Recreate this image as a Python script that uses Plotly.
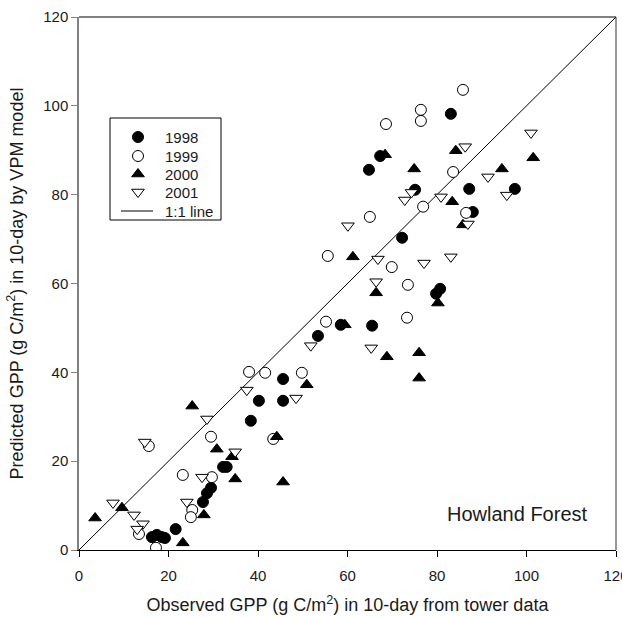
import plotly.graph_objects as go

# Observed (tower) vs predicted (VPM) 10-day GPP, g C/m2, Howland Forest
obs_1998 = [83.1, 67.3, 64.8, 97.4, 87.2, 75.1, 88.0, 72.2, 80.7, 79.8, 65.5, 58.5, 53.4,
            45.6, 40.2, 45.6, 38.4, 32.2, 33.0, 29.5, 28.6, 27.7, 21.6, 16.3, 17.4, 18.5, 19.2]
pred_1998 = [98.2, 88.7, 85.6, 81.3, 81.3, 81.1, 76.1, 70.3, 58.8, 57.7, 50.5, 50.7, 48.2,
             38.5, 33.6, 33.6, 29.1, 18.7, 18.7, 14.0, 12.8, 10.8, 4.7, 2.9, 3.4, 2.9, 2.7]

obs_1999 = [85.8, 76.4, 76.4, 68.6, 83.6, 65.0, 76.9, 86.5, 69.9, 73.5, 73.3, 55.6, 55.2,
            38.0, 41.6, 49.8, 43.4, 29.5, 15.6, 23.2, 29.7, 25.3, 25.0, 13.4, 17.2]
pred_1999 = [103.6, 99.1, 96.6, 95.9, 85.1, 75.0, 77.3, 75.9, 63.7, 59.7, 52.3, 66.2, 51.4,
             40.1, 39.9, 39.9, 25.0, 25.5, 23.4, 16.9, 16.4, 9.0, 7.4, 3.6, 0.5]

obs_2000 = [68.4, 74.9, 84.2, 101.5, 94.5, 83.4, 85.8, 61.2, 66.4, 80.2, 68.8, 76.0, 76.0,
            59.4, 50.9, 44.2, 45.6, 25.3, 30.8, 34.2, 34.9, 27.9, 23.2, 9.6, 3.6]
pred_2000 = [89.0, 85.8, 89.9, 88.3, 85.8, 78.4, 73.2, 66.0, 57.9, 55.6, 43.5, 44.4, 38.7,
             50.7, 37.2, 25.5, 15.3, 32.4, 22.7, 21.0, 16.0, 7.9, 1.6, 9.5, 7.2]

obs_2001 = [86.3, 101.0, 91.4, 95.6, 80.9, 72.8, 74.3, 86.9, 60.1, 66.8, 77.1, 83.1, 66.4,
            65.3, 51.8, 37.5, 48.5, 28.6, 14.7, 34.9, 27.5, 24.1, 7.6, 12.3, 14.3, 13.0]
pred_2001 = [90.8, 93.9, 84.0, 79.9, 79.5, 78.8, 80.5, 73.4, 73.0, 65.5, 64.6, 66.0, 60.4,
             45.5, 46.0, 36.0, 34.2, 29.5, 24.3, 22.1, 16.4, 10.8, 10.6, 7.9, 5.9, 4.7]

one_to_one = [0, 120]
axis_ticks = [0, 20, 40, 60, 80, 100, 120]
legend_labels = ["1998", "1999", "2000", "2001", "1:1 line"]

FONT = "Arial, Liberation Sans, sans-serif"
INK = "#1a1a1a"

# plot area in pixels (used to place the hand-drawn legend box)
L, R, T, B = 79, 616, 17, 550


def fx(px):
    return (px - L) / (R - L)


def fy(py):
    return (B - py) / (B - T)


fig = go.Figure()

fig.add_trace(go.Scatter(
    x=one_to_one, y=one_to_one, mode="lines", name="1:1 line",
    line=dict(color="black", width=1), showlegend=False))

series = [
    ("1998", obs_1998, pred_1998, "circle", "black"),
    ("1999", obs_1999, pred_1999, "circle", "white"),
    ("2000", obs_2000, pred_2000, "triangle-up", "black"),
    ("2001", obs_2001, pred_2001, "triangle-down", "white"),
]
for name, xs, ys, sym, fill in series:
    fig.add_trace(go.Scatter(
        x=xs, y=ys, mode="markers", name=name, showlegend=False,
        marker=dict(symbol=sym, size=11, color=fill,
                    line=dict(color="black", width=1))))

shapes = []
annotations = []

# legend box
shapes.append(dict(type="rect", xref="paper", yref="paper",
                   x0=fx(110), x1=fx(221), y0=fy(220), y1=fy(118),
                   line=dict(color="black", width=1), fillcolor="white", layer="above"))

row_y = [137, 156, 174, 192, 211]
key_x = fx(138)
tri_up = "M-6.35,-2.75 L6.35,-2.75 L0,5.5 Z"
tri_dn = "M-6.35,2.75 L6.35,2.75 L0,-5.5 Z"
for i, (name, _, _, sym, fill) in enumerate(series):
    base = dict(xref="paper", yref="paper", xsizemode="pixel", ysizemode="pixel",
                xanchor=key_x, yanchor=fy(row_y[i]), fillcolor=fill,
                line=dict(color="black", width=1), layer="above")
    if sym == "circle":
        shapes.append(dict(type="circle", x0=-5.5, x1=5.5, y0=-5.5, y1=5.5, **base))
    else:
        shapes.append(dict(type="path", path=tri_up if sym == "triangle-up" else tri_dn, **base))
shapes.append(dict(type="line", xref="paper", yref="paper",
                   x0=fx(121), x1=fx(153), y0=fy(row_y[4]), y1=fy(row_y[4]),
                   line=dict(color="black", width=1), layer="above"))

for label, ry in zip(legend_labels, row_y):
    annotations.append(dict(x=fx(163), y=fy(ry), xref="paper", yref="paper",
                            xanchor="left", yanchor="middle", text=label, showarrow=False,
                            font=dict(family=FONT, size=15, color=INK)))

annotations.append(dict(x=fx(517), y=fy(514), xref="paper", yref="paper",
                        xanchor="center", yanchor="middle",
                        text="Howland Forest", showarrow=False,
                        font=dict(family=FONT, size=20, color=INK)))

# frame: top and right edges
shapes.append(dict(type="line", xref="paper", yref="paper", x0=0, x1=1, y0=1, y1=1,
                   line=dict(color="black", width=1)))
shapes.append(dict(type="line", xref="paper", yref="paper", x0=1, x1=1, y0=0, y1=1,
                   line=dict(color="#333333", width=1)))

fig.update_layout(
    width=622, height=617,
    margin=dict(l=L, r=622 - R, t=T, b=617 - B),
    paper_bgcolor="white", plot_bgcolor="white",
    font=dict(family=FONT, size=15, color=INK),
    showlegend=False,
    shapes=shapes, annotations=annotations,
    xaxis=dict(range=[0, 120], tickvals=axis_ticks, ticktext=[str(t) for t in axis_ticks],
               showgrid=False, zeroline=False, showline=True, linecolor="black",
               linewidth=1, ticks="outside", ticklen=6, tickcolor="black",
               tickfont=dict(size=15), fixedrange=True, ticklabeloverflow="allow",
               ticklabelstandoff=6, automargin=False,
               title=dict(text="Observed GPP (g C/m<sup>2</sup>) in 10-day from tower data",
                          font=dict(size=18), standoff=15)),
    yaxis=dict(range=[0, 120], tickvals=axis_ticks, ticktext=[str(t) for t in axis_ticks],
               showgrid=False, zeroline=False, showline=True, linecolor="#808080",
               linewidth=1.5, ticks="outside", ticklen=6, tickcolor="#808080",
               tickfont=dict(size=15), fixedrange=True,
               title=dict(text="Predicted GPP (g C/m<sup>2</sup>) in 10-day by VPM model",
                          font=dict(size=18), standoff=15)),
)

fig.write_html("out.html")
